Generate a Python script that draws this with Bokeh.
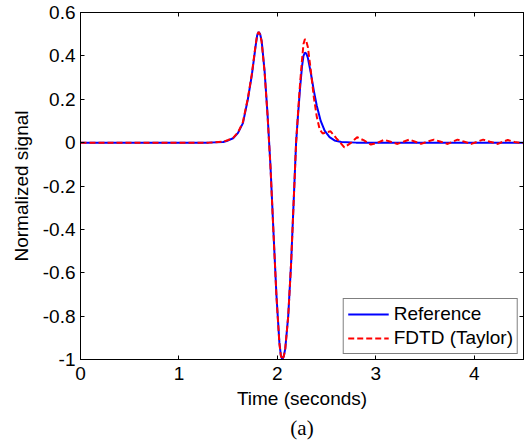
from bokeh.plotting import figure
from bokeh.models import LinearAxis, FixedTicker, Range1d, Legend, LegendItem, Title
from bokeh.embed import file_html
from bokeh.resources import INLINE

# Reference signal
ref_t = [0, 1.3, 1.45, 1.5, 1.55, 1.6, 1.65, 1.7, 1.74, 1.78, 1.795, 1.81, 1.825, 1.84, 1.87, 1.9,
         1.93, 1.96, 1.99, 2.02, 2.035, 2.05, 2.065, 2.08, 2.11, 2.14, 2.17, 2.19, 2.21, 2.23, 2.25,
         2.265, 2.28, 2.295, 2.31, 2.34, 2.37, 2.40, 2.44, 2.48, 2.53, 2.58, 2.65, 2.8, 4.5]
ref_y = [0, 0, 0.003, 0.01, 0.02, 0.045, 0.09, 0.2, 0.31, 0.45, 0.495, 0.51, 0.50, 0.47, 0.33, 0.13,
         -0.11, -0.41, -0.70, -0.92, -0.98, -1.0, -0.985, -0.95, -0.80, -0.55, -0.22, 0.0, 0.13, 0.25, 0.35,
         0.40, 0.415, 0.41, 0.39, 0.32, 0.24, 0.17, 0.10, 0.055, 0.025, 0.01, 0.003, 0, 0]

# FDTD (Taylor) signal
fdtd_t = [0, 1.3, 1.45, 1.5, 1.55, 1.6, 1.65, 1.7, 1.74, 1.78, 1.795, 1.81, 1.825, 1.84, 1.87, 1.9,
          1.93, 1.96, 1.99, 2.02, 2.035, 2.05, 2.065, 2.08, 2.11, 2.14, 2.17, 2.19, 2.21, 2.23, 2.25,
          2.265, 2.28, 2.295, 2.31, 2.34, 2.37, 2.40, 2.43, 2.46, 2.50, 2.54, 2.60, 2.68, 2.75, 2.81,
          2.88, 2.95, 3.02, 3.085, 3.15, 3.22, 3.28, 3.34, 3.40, 3.46, 3.52, 3.59, 3.66,
          3.73, 3.78, 3.83, 3.90, 3.97, 4.03, 4.09, 4.16, 4.24, 4.29, 4.34, 4.41, 4.5]
fdtd_y = [0, 0, 0.004, 0.012, 0.022, 0.047, 0.095, 0.205, 0.315, 0.455, 0.497, 0.51, 0.498, 0.465, 0.325, 0.125,
          -0.115, -0.415, -0.705, -0.925, -0.982, -1.0, -0.985, -0.95, -0.80, -0.55, -0.22, 0.0, 0.14, 0.27, 0.38,
          0.455, 0.478, 0.465, 0.44, 0.33, 0.21, 0.12, 0.06, 0.042, 0.048, 0.052, 0.02, -0.022, 0.0, 0.025,
          0.01, -0.009, 0.0, 0.013, 0.004, -0.006, 0.004, 0.014, 0.004, -0.006, 0.004, 0.014, 0.004,
          -0.006, 0.004, 0.014, 0.004, -0.006, 0.004, 0.014, 0.004, -0.006, 0.004, 0.012, 0.003, -0.003]

x_ticks = [0, 1, 2, 3, 4]
x_labels = ["0", "1", "2", "3", "4"]
y_ticks = [0.6, 0.4, 0.2, 0, -0.2, -0.4, -0.6, -0.8, -1]
y_labels = ["0.6", "0.4", "0.2", "0", "-0.2", "-0.4", "-0.6", "-0.8", "-1"]

FONT = "Liberation Sans"
FS = "19px"

p = figure(width=526, height=442, output_backend="svg", toolbar_location=None,
           x_range=Range1d(0, 4.5), y_range=Range1d(-1, 0.6),
           min_border_left=80, min_border_top=12, min_border_right=3, min_border_bottom=60)
p.grid.visible = False
p.outline_line_color = "black"
p.outline_line_width = 1
p.background_fill_color = "white"
p.border_fill_color = "white"


def style_axis(ax, ticks, labels, show_labels=True):
    ax.ticker = FixedTicker(ticks=ticks)
    ax.major_tick_in = 4
    ax.major_tick_out = 0
    ax.minor_tick_in = 0
    ax.minor_tick_out = 0
    ax.axis_line_color = "black"
    ax.major_tick_line_color = "black"
    ax.major_label_text_font = FONT
    ax.major_label_text_color = "black"
    ax.major_label_text_font_size = FS
    if show_labels:
        ax.major_label_overrides = {t: l for t, l in zip(ticks, labels)}
        ax.major_label_standoff = 7
    else:
        ax.major_label_overrides = {t: "" for t in ticks}
        ax.major_label_standoff = 0


style_axis(p.xaxis[0], x_ticks, x_labels)
style_axis(p.yaxis[0], y_ticks, y_labels)
p.yaxis[0].major_label_standoff = 5
p.xaxis[0].axis_label = "Time (seconds)"
p.yaxis[0].axis_label = "Normalized signal"
for ax in (p.xaxis[0], p.yaxis[0]):
    ax.axis_label_text_font = FONT
    ax.axis_label_text_font_size = FS
    ax.axis_label_text_font_style = "normal"
    ax.axis_label_text_color = "black"
p.xaxis[0].axis_label_standoff = 5
p.yaxis[0].axis_label_standoff = 8

top_ax = LinearAxis()
style_axis(top_ax, x_ticks, x_labels, show_labels=False)
p.add_layout(top_ax, "above")
right_ax = LinearAxis()
style_axis(right_ax, y_ticks, y_labels, show_labels=False)
p.add_layout(right_ax, "right")

r_ref = p.line(ref_t, ref_y, line_color="#0000ff", line_width=2)
r_fdtd = p.line(fdtd_t, fdtd_y, line_color="#ff0000", line_width=2, line_dash="6 3")

legend = Legend(items=[LegendItem(label="Reference", renderers=[r_ref]),
                       LegendItem(label="FDTD (Taylor)", renderers=[r_fdtd])],
                location="bottom_right")
legend.label_text_font = FONT
legend.label_text_font_size = FS
legend.label_text_color = "black"
legend.glyph_width = 41
legend.label_standoff = 5
legend.padding = 4
legend.spacing = 2
legend.margin = 5
legend.border_line_color = "black"
legend.border_line_width = 1
legend.background_fill_alpha = 1.0
p.add_layout(legend)

cap = Title(text="(a)", align="center", text_font="Liberation Serif",
            text_font_size="21px", text_font_style="normal", text_color="black",
            standoff=5)
p.add_layout(cap, "below")

open("out.html", "w").write(file_html(p, INLINE))
